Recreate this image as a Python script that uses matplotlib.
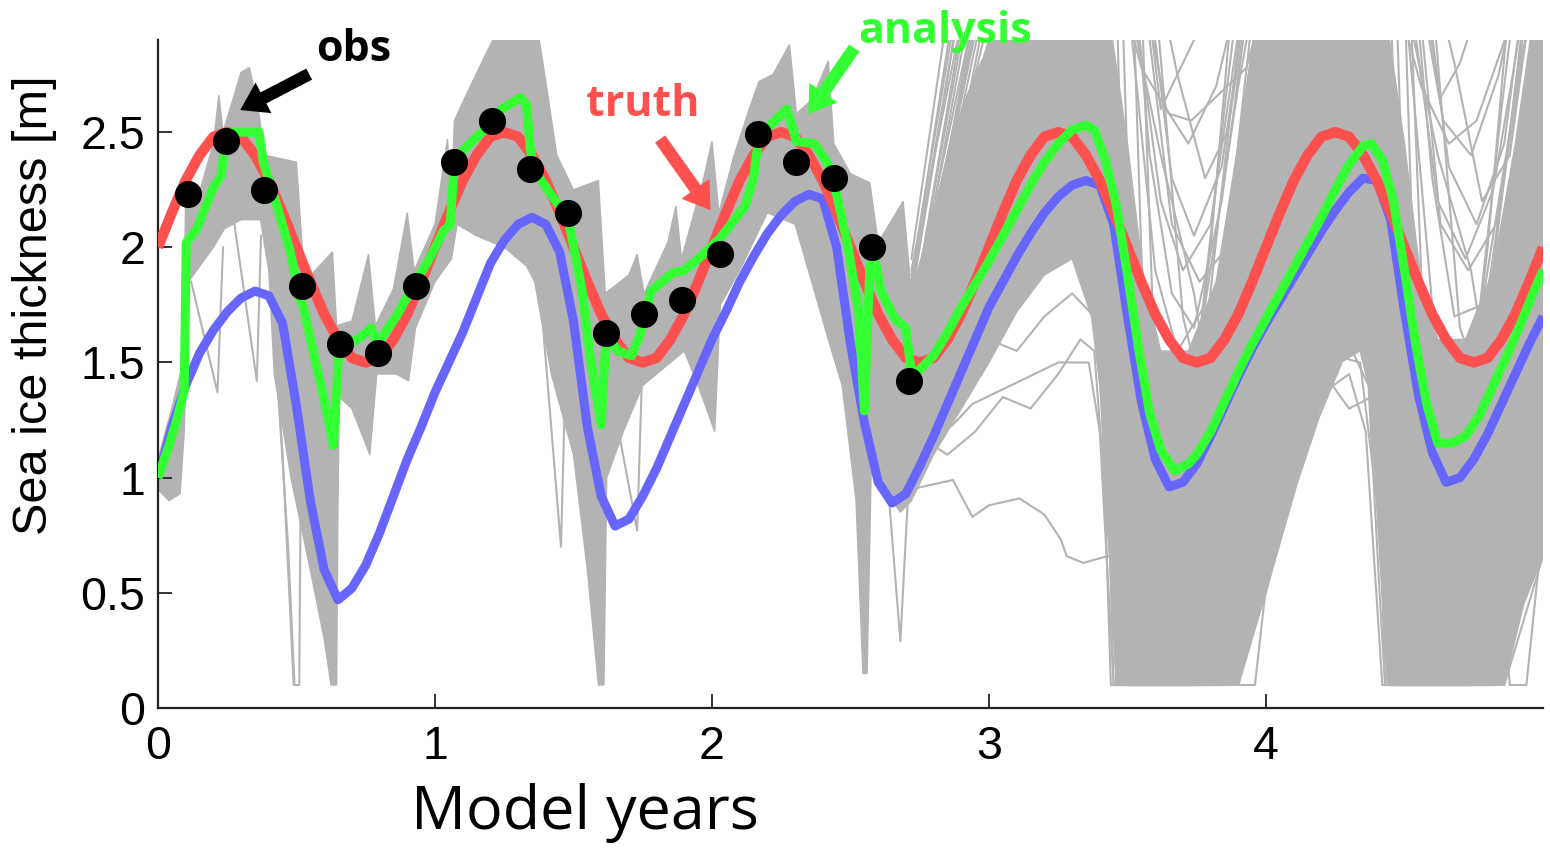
import matplotlib
matplotlib.use("Agg")
import matplotlib.pyplot as plt
import numpy as np

# ---------------------------------------------------------------------------
# Data
# ---------------------------------------------------------------------------
# sampling times (model years) of the truth and of the free model run
model_years = np.round(np.arange(0.0, 5.0001, 0.05), 2)

truth_thickness = [
    2.00, 2.15, 2.29, 2.40, 2.48, 2.50, 2.48, 2.40, 2.29, 2.15,
    2.00, 1.85, 1.71, 1.60, 1.52, 1.50, 1.52, 1.60, 1.71, 1.85,
    2.00, 2.15, 2.29, 2.40, 2.48, 2.50, 2.48, 2.40, 2.29, 2.15,
    2.00, 1.85, 1.71, 1.60, 1.52, 1.50, 1.52, 1.60, 1.71, 1.85,
    2.00, 2.15, 2.29, 2.40, 2.48, 2.50, 2.48, 2.40, 2.29, 2.15,
    2.00, 1.85, 1.71, 1.60, 1.52, 1.50, 1.52, 1.60, 1.71, 1.85,
    2.00, 2.15, 2.29, 2.40, 2.48, 2.50, 2.48, 2.40, 2.29, 2.15,
    2.00, 1.85, 1.71, 1.60, 1.52, 1.50, 1.52, 1.60, 1.71, 1.85,
    2.00, 2.15, 2.29, 2.40, 2.48, 2.50, 2.48, 2.40, 2.29, 2.15,
    2.00, 1.85, 1.71, 1.60, 1.52, 1.50, 1.52, 1.60, 1.71, 1.85,
    2.00,
]

free_run_thickness = [
    1.00, 1.22, 1.40, 1.54, 1.64, 1.72, 1.78, 1.81, 1.79, 1.67,
    1.31, 0.90, 0.60, 0.47, 0.52, 0.62, 0.76, 0.92, 1.08, 1.22,
    1.37, 1.50, 1.63, 1.78, 1.93, 2.03, 2.10, 2.13, 2.10, 1.98,
    1.68, 1.22, 0.92, 0.79, 0.82, 0.92, 1.04, 1.18, 1.32, 1.46,
    1.60, 1.72, 1.85, 1.96, 2.06, 2.14, 2.20, 2.23, 2.21, 2.00,
    1.58, 1.24, 0.98, 0.89, 0.93, 1.05, 1.18, 1.32, 1.46, 1.60,
    1.74, 1.85, 1.96, 2.06, 2.15, 2.22, 2.27, 2.29, 2.27, 2.10,
    1.70, 1.33, 1.08, 0.96, 0.98, 1.06, 1.18, 1.31, 1.44, 1.56,
    1.67, 1.77, 1.87, 1.97, 2.07, 2.16, 2.24, 2.30, 2.29, 2.12,
    1.72, 1.36, 1.11, 0.98, 1.00, 1.08, 1.19, 1.32, 1.45, 1.58,
    1.70,
]

# observations (every 50 days during the first 2.7 years)
obs_years = [0.110, 0.247, 0.384, 0.521, 0.658, 0.795, 0.932, 1.069, 1.206, 1.343,
             1.480, 1.617, 1.754, 1.891, 2.028, 2.165, 2.302, 2.439, 2.576, 2.713]
obs_thickness = [2.23, 2.46, 2.25, 1.83, 1.58, 1.54, 1.83, 2.37, 2.55, 2.34,
                 2.15, 1.63, 1.71, 1.77, 1.97, 2.49, 2.37, 2.30, 2.00, 1.42]

# analysis (ensemble mean), with the jumps at the analysis steps
analysis_years = [
    0.000, 0.040, 0.070, 0.095, 0.102, 0.140, 0.200, 0.228, 0.243, 0.270,
    0.365, 0.380, 0.420, 0.480, 0.510, 0.525, 0.560, 0.600, 0.633, 0.652,
    0.680, 0.720, 0.770, 0.790, 0.860, 0.930, 0.980, 1.030, 1.055, 1.068,
    1.100, 1.160, 1.210, 1.240, 1.310, 1.330, 1.345, 1.360, 1.430, 1.480,
    1.530, 1.560, 1.600, 1.615, 1.630, 1.660, 1.710, 1.740, 1.760, 1.780,
    1.860, 1.900, 1.960, 2.030, 2.120, 2.150, 2.165, 2.210, 2.270, 2.290,
    2.305, 2.370, 2.420, 2.450, 2.490, 2.530, 2.550, 2.570, 2.585, 2.610,
    2.660, 2.700, 2.720, 2.750, 2.800, 2.850, 2.900, 2.950, 3.000, 3.050,
    3.100, 3.150, 3.200, 3.250, 3.300, 3.350, 3.380, 3.420, 3.460, 3.500,
    3.540, 3.580, 3.620, 3.670, 3.720, 3.750, 3.800, 3.850, 3.900, 3.950,
    4.000, 4.050, 4.100, 4.150, 4.200, 4.250, 4.300, 4.350, 4.380, 4.420,
    4.460, 4.500, 4.540, 4.580, 4.620, 4.670, 4.720, 4.770, 4.820, 4.870,
    4.920, 4.960, 5.000,
]
analysis_thickness = [
    1.00, 1.14, 1.26, 1.38, 2.02, 2.08, 2.26, 2.31, 2.46, 2.50,
    2.50, 2.37, 2.22, 1.97, 1.79, 1.74, 1.55, 1.34, 1.14, 1.53,
    1.58, 1.60, 1.65, 1.58, 1.70, 1.85, 1.95, 2.07, 2.10, 2.33,
    2.42, 2.49, 2.54, 2.60, 2.65, 2.62, 2.42, 2.33, 2.21, 2.13,
    1.82, 1.53, 1.23, 1.56, 1.60, 1.55, 1.53, 1.62, 1.72, 1.81,
    1.89, 1.90, 1.96, 2.04, 2.18, 2.30, 2.44, 2.53, 2.60, 2.52,
    2.46, 2.45, 2.36, 2.23, 2.01, 1.72, 1.29, 1.92, 1.97, 1.81,
    1.69, 1.65, 1.45, 1.47, 1.53, 1.63, 1.74, 1.84, 1.94, 2.05,
    2.16, 2.27, 2.37, 2.45, 2.51, 2.53, 2.51, 2.38, 2.18, 1.88,
    1.56, 1.28, 1.12, 1.03, 1.06, 1.10, 1.20, 1.33, 1.46, 1.58,
    1.69, 1.80, 1.91, 2.02, 2.13, 2.25, 2.36, 2.44, 2.45, 2.38,
    2.20, 1.90, 1.58, 1.32, 1.15, 1.15, 1.18, 1.27, 1.40, 1.53,
    1.67, 1.79, 1.90,
]

# ensemble spread while observations are assimilated: (year, thickness)
assim_spread_upper = [
    (0.000, 1.08), (0.050, 1.30), (0.090, 1.50), (0.100, 2.20), (0.150, 2.24),
    (0.200, 2.45), (0.220, 2.66), (0.235, 2.50), (0.260, 2.60), (0.300, 2.76),
    (0.330, 2.78), (0.360, 2.62), (0.385, 2.40), (0.500, 2.37), (0.515, 2.10),
    (0.530, 1.85), (0.630, 1.98), (0.645, 1.66), (0.700, 1.68), (0.760, 1.97),
    (0.785, 1.66), (0.850, 1.82), (0.900, 2.15), (0.925, 1.90), (1.000, 2.10),
    (1.045, 2.47), (1.060, 2.20), (1.070, 2.55), (1.120, 2.68), (1.180, 2.83),
    (1.230, 2.95), (1.370, 2.95), (1.400, 2.72), (1.440, 2.40), (1.500, 2.25),
    (1.590, 2.29), (1.615, 1.80), (1.700, 1.88), (1.730, 1.97), (1.755, 1.80),
    (1.840, 2.02), (1.870, 2.18), (1.890, 1.95), (1.970, 2.30), (2.000, 2.46),
    (2.025, 2.15), (2.080, 2.40), (2.140, 2.62), (2.170, 2.72), (2.220, 2.75),
    (2.280, 2.88), (2.305, 2.58), (2.360, 2.64), (2.420, 2.81), (2.440, 2.45),
    (2.500, 2.32), (2.570, 2.28), (2.600, 2.02), (2.690, 2.20), (2.720, 1.80),
]
assim_spread_lower = [
    (0.000, 0.95), (0.040, 0.90), (0.080, 0.93), (0.095, 1.20), (0.110, 1.85),
    (0.200, 2.00), (0.240, 2.08), (0.300, 2.12), (0.370, 2.12), (0.400, 1.90),
    (0.420, 1.45), (0.480, 1.00), (0.550, 0.60), (0.600, 0.30), (0.625, 0.10),
    (0.645, 0.10), (0.650, 0.90), (0.655, 1.35), (0.700, 1.30), (0.765, 1.10),
    (0.790, 1.45), (0.860, 1.45), (0.905, 1.42), (0.930, 1.65), (1.000, 1.85),
    (1.060, 1.95), (1.080, 2.10), (1.150, 2.05), (1.250, 2.00), (1.330, 1.92),
    (1.360, 1.85), (1.420, 1.45), (1.500, 1.10), (1.550, 0.60), (1.590, 0.10),
    (1.610, 0.10), (1.620, 1.00), (1.680, 1.20), (1.750, 1.40), (1.800, 1.45),
    (1.900, 1.55), (1.950, 1.40), (2.010, 1.20), (2.030, 1.75), (2.100, 1.90),
    (2.160, 2.05), (2.200, 2.15), (2.300, 2.10), (2.360, 1.85), (2.420, 1.60),
    (2.470, 1.40), (2.520, 0.90), (2.545, 0.15), (2.560, 0.15), (2.575, 1.05),
    (2.620, 0.95), (2.680, 0.85), (2.720, 0.90),
]

# single members that stray from the assimilated ensemble
assim_strays = [
    [(0.120, 1.85), (0.215, 1.37), (0.235, 2.00)],
    [(0.270, 2.15), (0.357, 1.42), (0.372, 2.05)],
    [(0.390, 2.20), (0.450, 1.10), (0.490, 0.10), (0.510, 0.10), (0.520, 1.70)],
    [(0.400, 2.00), (0.470, 0.70), (0.493, 0.10)],
    [(1.370, 1.95), (1.455, 0.70), (1.480, 1.85)],
    [(1.640, 1.35), (1.730, 0.77), (1.750, 1.55)],
    [(2.600, 1.50), (2.680, 0.29), (2.720, 1.20)],
]

# ensemble spread of the free forecast after the last observation
forecast_spread_upper = [
    (2.72, 1.80), (2.80, 2.15), (2.87, 2.50), (2.95, 2.75), (3.03, 2.95),
    (3.44, 2.95), (3.50, 2.45), (3.56, 1.85), (3.62, 1.55), (3.72, 1.55),
    (3.82, 1.85), (3.90, 2.45), (3.96, 2.95), (4.44, 2.95), (4.50, 2.45),
    (4.56, 1.85), (4.62, 1.60), (4.72, 1.60), (4.82, 1.90), (4.90, 2.45),
    (4.96, 2.95), (5.00, 2.95),
]
forecast_spread_lower = [
    (2.72, 0.90), (2.80, 1.10), (2.90, 1.30), (3.00, 1.50), (3.10, 1.72),
    (3.20, 1.88), (3.30, 1.95), (3.37, 1.70), (3.40, 1.40), (3.43, 0.80),
    (3.46, 0.10), (3.90, 0.10), (4.01, 0.57), (4.11, 0.99), (4.19, 1.28),
    (4.27, 1.50), (4.34, 1.55), (4.37, 1.40), (4.40, 0.90), (4.44, 0.10),
    (4.86, 0.10), (4.93, 0.45), (5.00, 0.66),
]

# individual forecast members (values above 2.9 m leave the plotted range)
forecast_wide = [
    [(2.72, 1.55), (2.96, 3.10), (3.36, 3.10), (3.44, 0.10), (3.64, 0.10), (3.92, 3.10),
     (4.36, 3.10), (4.43, 0.10), (4.64, 0.10), (4.94, 3.10), (5.00, 3.10)],
    [(2.72, 1.70), (2.98, 3.10), (3.40, 3.10), (3.46, 0.10), (3.68, 0.10), (3.96, 3.10),
     (4.38, 3.10), (4.44, 0.10), (4.68, 0.10), (5.00, 2.60)],
    [(2.72, 1.40), (3.00, 3.10), (3.42, 3.10), (3.48, 0.10), (3.72, 0.10), (4.00, 3.10),
     (4.40, 3.10), (4.46, 0.10), (4.72, 0.10), (5.00, 2.20)],
    [(2.72, 1.30), (3.04, 3.10), (3.44, 3.10), (3.50, 0.10), (3.76, 0.10), (4.05, 3.10),
     (4.42, 3.10), (4.48, 0.10), (4.76, 0.10), (5.00, 1.80)],
    [(2.72, 1.60), (3.02, 3.10), (3.46, 3.10), (3.53, 0.10), (3.80, 0.10), (4.10, 3.10),
     (4.45, 3.10), (4.52, 0.10), (4.80, 0.10), (5.00, 1.40)],
    [(2.72, 1.20), (3.08, 3.10), (3.48, 3.10), (3.56, 0.10), (3.84, 0.10), (4.15, 3.10),
     (4.47, 3.10), (4.55, 0.10), (4.84, 0.10), (5.00, 1.00)],
    [(2.72, 1.50), (3.06, 3.10), (3.52, 3.10), (3.60, 0.10), (3.70, 0.10), (3.98, 3.10),
     (4.50, 3.10), (4.58, 0.10), (4.70, 0.10), (4.98, 3.10)],
    [(2.72, 1.65), (2.94, 3.10), (3.55, 3.10), (3.64, 0.10), (3.80, 0.10), (4.00, 2.20),
     (4.20, 3.10), (4.52, 3.10), (4.62, 0.10), (4.78, 0.10), (5.00, 2.00)],
    [(2.72, 1.55), (2.99, 3.10), (3.38, 3.10), (3.45, 0.10), (3.60, 0.10), (3.75, 1.50),
     (3.85, 2.60), (3.90, 3.10), (4.38, 3.10), (4.44, 0.10), (4.60, 0.10), (4.75, 1.50),
     (4.85, 2.60), (4.90, 3.10)],
    [(2.72, 1.62), (2.97, 3.10), (3.41, 3.10), (3.47, 0.10), (3.62, 0.10), (3.80, 2.00),
     (3.88, 3.10), (4.40, 3.10), (4.46, 0.10), (4.62, 0.10), (4.80, 2.00), (4.88, 3.10)],
    [(2.72, 1.90), (2.92, 3.10), (3.50, 3.10), (3.62, 2.40), (3.74, 1.80), (3.82, 1.20),
     (3.86, 0.50), (3.88, 0.10), (3.96, 0.10), (4.10, 1.60), (4.20, 3.10), (4.50, 3.10),
     (4.62, 2.40), (4.74, 1.90), (4.82, 1.30), (4.86, 0.40), (4.88, 0.10), (4.94, 0.10),
     (5.00, 0.80)],
]
forecast_high = [
    [(2.72, 1.85), (2.88, 3.10), (3.52, 3.10), (3.62, 2.20), (3.70, 1.90), (3.80, 2.10),
     (3.92, 3.10), (4.52, 3.10), (4.62, 2.20), (4.72, 1.95), (4.82, 2.25), (4.94, 3.10),
     (5.00, 3.10)],
    [(2.72, 1.95), (2.86, 3.10), (3.56, 3.10), (3.64, 2.60), (3.72, 2.45), (3.82, 2.70),
     (3.90, 3.10), (4.56, 3.10), (4.64, 2.55), (4.74, 2.40), (4.84, 2.75), (4.90, 3.10)],
    [(2.72, 1.70), (2.93, 3.10), (3.50, 3.10), (3.60, 1.90), (3.68, 1.55), (3.78, 1.75),
     (3.90, 2.70), (3.96, 3.10), (4.50, 3.10), (4.60, 1.75), (4.70, 1.50), (4.80, 1.80),
     (4.92, 2.80), (4.97, 3.10)],
    [(2.72, 1.75), (2.95, 2.70), (3.05, 3.10), (3.48, 3.10), (3.55, 2.78), (3.65, 2.58),
     (3.73, 2.55), (3.93, 2.78), (4.00, 3.10), (4.47, 3.10), (4.56, 2.70), (4.66, 2.45),
     (4.76, 2.55), (4.92, 3.10)],
    [(2.72, 1.60), (2.98, 3.10), (3.53, 3.10), (3.58, 2.40), (3.66, 1.80), (3.74, 1.65),
     (3.84, 2.20), (3.94, 3.10), (4.54, 3.10), (4.60, 2.30), (4.68, 1.70), (4.78, 1.75),
     (4.88, 2.50), (4.95, 3.10)],
    [(2.72, 1.78), (2.90, 3.10), (3.58, 3.10), (3.66, 2.30), (3.74, 2.05), (3.84, 2.35),
     (3.93, 3.10), (4.58, 3.10), (4.66, 2.35), (4.76, 2.10), (4.86, 2.45), (4.93, 3.10)],
    [(2.72, 1.68), (2.92, 3.10), (3.60, 3.10), (3.70, 1.70), (3.76, 1.40), (3.82, 1.55),
     (3.92, 2.60), (3.98, 3.10), (4.60, 3.10), (4.70, 1.65), (4.76, 1.45), (4.84, 1.70),
     (4.94, 2.70), (5.00, 3.10)],
    [(2.72, 1.82), (2.90, 3.10), (3.62, 3.10), (3.68, 2.75), (3.78, 2.30), (3.86, 2.50),
     (3.94, 3.10), (4.62, 3.10), (4.68, 2.80), (4.78, 2.20), (4.88, 2.40), (4.96, 3.10)],
    [(2.72, 1.72), (2.96, 3.10), (3.54, 3.10), (3.58, 2.90), (3.66, 2.10), (3.76, 1.85),
     (3.86, 2.00), (3.96, 2.80), (4.02, 3.10), (4.55, 3.10), (4.63, 2.10), (4.73, 1.90),
     (4.83, 2.10), (4.95, 3.00)],
    [(2.72, 1.88), (2.89, 3.10), (3.57, 3.10), (3.62, 2.60), (3.68, 2.75), (3.76, 2.95),
     (3.80, 3.10), (4.57, 3.10), (4.63, 2.65), (4.70, 2.80), (4.78, 3.10)],
]
forecast_mid = [
    [(2.72, 1.45), (2.85, 1.85), (3.00, 2.25), (3.20, 2.60), (3.35, 2.72), (3.42, 2.50),
     (3.50, 1.60), (3.58, 0.80), (3.66, 0.50), (3.74, 0.60), (3.85, 1.20), (4.00, 1.80),
     (4.20, 2.40), (4.35, 2.65), (4.42, 2.45), (4.50, 1.60), (4.58, 0.80), (4.66, 0.55),
     (4.75, 0.70), (4.88, 1.30), (5.00, 1.75)],
    [(2.72, 1.50), (2.90, 2.00), (3.10, 2.50), (3.30, 2.85), (3.40, 2.80), (3.48, 2.00),
     (3.55, 1.20), (3.62, 0.70), (3.70, 0.75), (3.82, 1.40), (4.00, 2.10), (4.20, 2.70),
     (4.35, 2.85), (4.44, 2.40), (4.52, 1.50), (4.60, 0.90), (4.68, 0.85), (4.80, 1.40),
     (5.00, 2.20)],
    [(2.72, 1.35), (2.95, 1.80), (3.15, 2.20), (3.35, 2.40), (3.45, 2.10), (3.52, 1.30),
     (3.58, 0.60), (3.64, 0.35), (3.72, 0.50), (3.85, 1.10), (4.05, 1.70), (4.25, 2.10),
     (4.38, 2.20), (4.46, 1.70), (4.54, 0.90), (4.62, 0.40), (4.72, 0.45), (4.85, 1.00),
     (5.00, 1.50)],
    [(2.72, 1.40), (2.90, 1.90), (3.10, 2.35), (3.30, 2.55), (3.40, 2.45), (3.47, 1.80),
     (3.53, 1.00), (3.60, 0.35), (3.66, 0.10), (3.74, 0.10), (3.86, 0.90), (4.05, 1.90),
     (4.25, 2.55), (4.38, 2.70), (4.46, 2.20), (4.53, 1.20), (4.60, 0.40), (4.64, 0.10),
     (4.74, 0.10), (4.88, 0.95), (5.00, 1.60)],
]
forecast_low = [
    [(2.72, 1.10), (2.87, 1.23), (2.94, 1.32), (3.13, 1.43), (3.25, 1.50), (3.36, 1.50),
     (3.40, 1.20), (3.45, 0.10), (3.90, 0.10), (4.01, 0.55), (4.11, 0.97), (4.19, 1.26),
     (4.28, 1.52), (4.34, 1.50), (4.40, 0.90), (4.44, 0.10), (4.86, 0.10), (5.00, 0.66)],
    [(2.72, 0.95), (2.87, 0.99), (2.94, 0.83), (3.00, 0.88), (3.11, 0.91), (3.20, 0.84),
     (3.26, 0.73), (3.28, 0.66), (3.34, 0.63), (3.43, 0.66), (3.47, 0.63), (3.51, 0.10),
     (3.88, 0.10), (4.00, 0.50), (4.12, 1.10), (4.22, 1.38), (4.30, 1.45), (4.36, 1.20),
     (4.42, 0.10), (4.84, 0.10), (4.95, 0.60), (5.00, 0.85)],
    [(2.72, 1.20), (2.85, 1.10), (2.95, 1.20), (3.05, 1.35), (3.15, 1.30), (3.25, 1.45),
     (3.33, 1.60), (3.38, 1.55), (3.44, 0.60), (3.47, 0.10), (3.86, 0.10), (3.98, 0.70),
     (4.08, 1.15), (4.18, 1.45), (4.24, 1.40), (4.30, 1.30), (4.38, 1.35), (4.42, 0.60),
     (4.45, 0.10), (4.82, 0.10), (4.92, 0.70), (5.00, 1.10)],
    [(2.72, 1.00), (2.80, 1.25), (2.90, 1.45), (3.00, 1.60), (3.10, 1.55), (3.20, 1.70),
     (3.30, 1.80), (3.38, 1.70), (3.43, 1.00), (3.46, 0.10), (3.84, 0.10), (3.95, 0.80),
     (4.05, 1.30), (4.15, 1.55), (4.22, 1.62), (4.30, 1.58), (4.37, 1.40), (4.41, 0.50),
     (4.43, 0.10), (4.80, 0.10), (4.90, 0.90), (5.00, 1.30)],
]

y_ticks = [0, 0.5, 1, 1.5, 2, 2.5]
y_tick_labels = ["0", "0.5", "1", "1.5", "2", "2.5"]
x_ticks = [0, 1, 2, 3, 4]
x_tick_labels = ["0", "1", "2", "3", "4"]

# ---------------------------------------------------------------------------
# Styling
# ---------------------------------------------------------------------------
GRAY = "#b3b3b3"
RED = "#ff5050"
GREEN = "#33ff33"
BLUE = "#6666ff"
TICK_FONT = ["Liberation Sans", "DejaVu Sans"]
LABEL_FONT = ["Open Sans", "DejaVu Sans"]

fig = plt.figure(figsize=(15.5, 8.51), dpi=100)
ax = fig.add_axes([0.1019, 0.168, 0.8936, 0.785])


def spread_polygon(upper, lower):
    xs = [p[0] for p in upper] + [p[0] for p in lower[::-1]]
    ys = [p[1] for p in upper] + [p[1] for p in lower[::-1]]
    return xs, ys


# ensemble members (gray)
for up, lo in ((assim_spread_upper, assim_spread_lower),
               (forecast_spread_upper, forecast_spread_lower)):
    px, py = spread_polygon(up, lo)
    ax.fill(px, py, color=GRAY, lw=1.0, ec=GRAY, zorder=1)

for group in (assim_strays, forecast_wide, forecast_high, forecast_mid, forecast_low):
    for member in group:
        t, v = zip(*member)
        ax.plot(t, v, color=GRAY, lw=1.5, zorder=1.5)

# free run, truth, analysis, observations
ax.plot(model_years, free_run_thickness, color=BLUE, lw=6.5, zorder=2,
        solid_capstyle="butt", solid_joinstyle="round")
ax.plot(model_years, truth_thickness, color=RED, lw=7.5, zorder=3,
        solid_capstyle="butt", solid_joinstyle="round")
ax.plot(analysis_years, analysis_thickness, color=GREEN, lw=6.5, zorder=4,
        solid_capstyle="butt", solid_joinstyle="round")
ax.plot(obs_years, obs_thickness, "o", color="black", ms=18.5, zorder=5)

# axes
ax.set_xlim(0, 5.0)
ax.set_ylim(0, 2.9)
ax.set_xticks(x_ticks)
ax.set_xticklabels(x_tick_labels)
ax.set_yticks(y_ticks)
ax.set_yticklabels(y_tick_labels)
for side in ("top", "right"):
    ax.spines[side].set_visible(False)
for side in ("left", "bottom"):
    ax.spines[side].set_linewidth(1.6)
    ax.spines[side].set_color("#222222")
ax.tick_params(direction="in", length=10, width=1.3, color="#222222")
ax.tick_params(axis="y", pad=9)
ax.tick_params(axis="x", pad=12)
for lab in ax.get_xticklabels() + ax.get_yticklabels():
    lab.set_fontfamily(TICK_FONT)
    lab.set_fontsize(33.5)

ax.set_ylabel("Sea ice thickness [m]", fontsize=35, family=TICK_FONT)
ax.yaxis.set_label_coords(-0.073, 0.603)
ax.set_xlabel("Model years", fontsize=44, family=LABEL_FONT)
ax.xaxis.set_label_coords(0.308, -0.112)

# annotations
ann_font = dict(family=LABEL_FONT, fontweight="bold", fontsize=31)
arrow = "simple,head_length=0.42,head_width=0.55,tail_width=0.2"
ax.text(0.705, 2.809, "obs", color="black", ha="center", va="baseline",
        clip_on=False, **ann_font)
ax.annotate("", xy=(0.297, 2.596), xytext=(0.546, 2.752),
            arrowprops=dict(arrowstyle=arrow, color="black", mutation_scale=45, lw=0,
                            shrinkA=0, shrinkB=0), annotation_clip=False, zorder=6)
ax.text(1.751, 2.570, "truth", color=RED, ha="center", va="baseline",
        clip_on=False, **ann_font)
ax.annotate("", xy=(1.995, 2.161), xytext=(1.813, 2.470),
            arrowprops=dict(arrowstyle=arrow, color=RED, mutation_scale=45, lw=0,
                            shrinkA=0, shrinkB=0), annotation_clip=False, zorder=6)
ax.text(2.840, 2.887, "analysis", color=GREEN, ha="center", va="baseline",
        clip_on=False, **ann_font)
ax.annotate("", xy=(2.348, 2.578), xytext=(2.514, 2.865),
            arrowprops=dict(arrowstyle=arrow, color=GREEN, mutation_scale=45, lw=0,
                            shrinkA=0, shrinkB=0), annotation_clip=False, zorder=6)

fig.savefig("out.png", dpi=100, facecolor="white")
